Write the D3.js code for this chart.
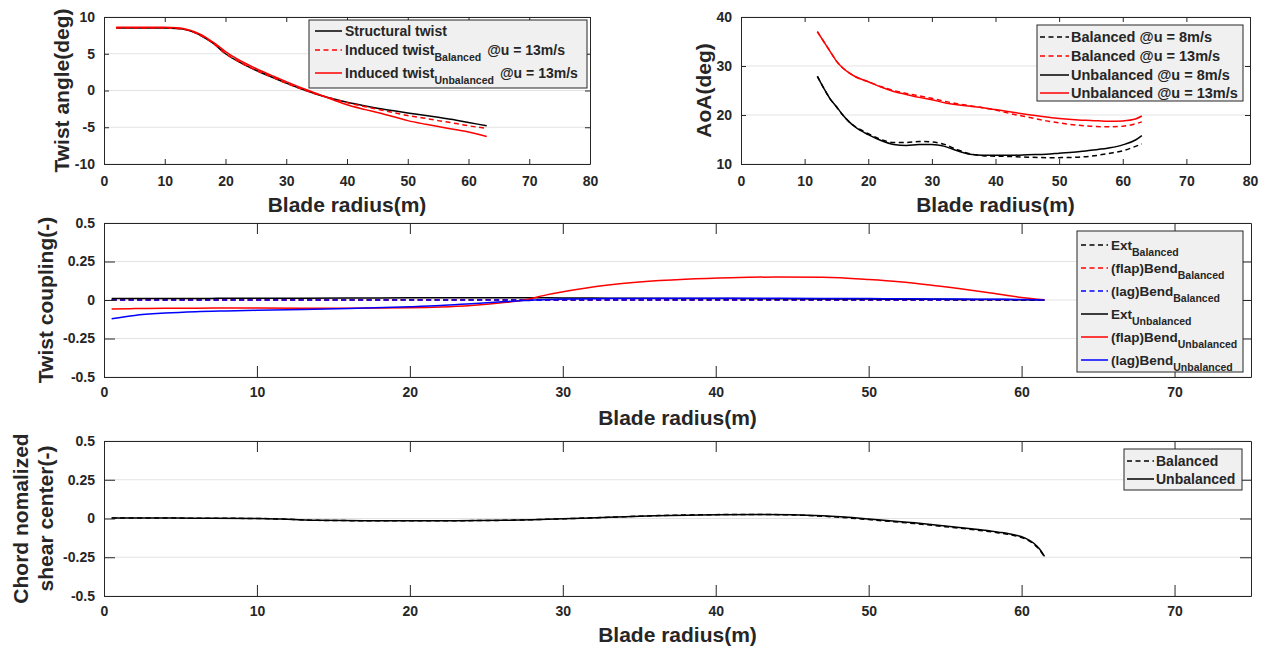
<!DOCTYPE html>
<html>
<head>
<meta charset="utf-8">
<script src="https://cdn.jsdelivr.net/npm/d3@7"></script>
<style>
  body { margin: 0; background: #fff; }
  text { font-family: "Liberation Sans", Arial, Helvetica, sans-serif; font-weight: bold; fill: #262626; }
</style>
</head>
<body>
<svg id="chart" width="1269" height="650"></svg>
<script>
// ---- top left: twist angle along the blade
const twistR = [2, 5, 8, 10, 12, 13, 14, 15, 16, 17, 18, 20, 22, 25, 28, 30, 33, 35, 38, 40, 43, 45, 48, 50, 53, 55, 58, 60, 63];
const structuralTwist = [8.5, 8.5, 8.5, 8.5, 8.45, 8.35, 8.15, 7.85, 7.45, 6.95, 6.4, 5.0, 4.0, 2.75, 1.7, 1.0, 0.05, -0.5, -1.2, -1.6, -2.1, -2.4, -2.8, -3.05, -3.4, -3.65, -4.05, -4.35, -4.8];
const inducedTwistBal = [8.5, 8.5, 8.5, 8.5, 8.45, 8.35, 8.15, 7.85, 7.45, 6.95, 6.4, 5.0, 4.0, 2.75, 1.7, 1.0, 0.05, -0.5, -1.2, -1.65, -2.2, -2.55, -3.05, -3.4, -3.8, -4.1, -4.5, -4.8, -5.15];
const inducedTwistUnbal = [8.6, 8.6, 8.6, 8.6, 8.55, 8.45, 8.25, 7.95, 7.6, 7.1, 6.55, 5.3, 4.25, 3.0, 1.9, 1.2, 0.2, -0.4, -1.35, -1.95, -2.6, -3.0, -3.65, -4.1, -4.6, -4.9, -5.35, -5.65, -6.25];

// ---- top right: angle of attack
const aoaR = [12, 13, 14, 15, 16, 17, 18, 20, 22, 24, 26, 28, 30, 32, 34, 36, 38, 40, 43, 45, 48, 50, 53, 55, 58, 60, 62, 63];
const aoaBal8 = [27.9, 25.5, 23.3, 21.7, 20.0, 18.6, 17.6, 16.2, 15.0, 14.4, 14.4, 14.6, 14.5, 14.0, 12.9, 12.1, 11.7, 11.6, 11.5, 11.4, 11.3, 11.3, 11.4, 11.6, 12.2, 12.7, 13.6, 14.1];
const aoaBal13 = [37.0, 35.0, 33.0, 31.0, 29.6, 28.6, 27.8, 26.8, 25.8, 25.0, 24.4, 23.9, 23.4, 22.8, 22.3, 21.9, 21.5, 21.0, 20.1, 19.6, 18.8, 18.4, 17.9, 17.7, 17.6, 17.7, 18.2, 18.6];
const aoaUnbal8 = [27.9, 25.5, 23.3, 21.7, 20.0, 18.6, 17.5, 16.0, 14.8, 14.0, 13.8, 14.0, 14.0, 13.6, 12.7, 12.0, 11.8, 11.8, 11.8, 11.9, 12.0, 12.2, 12.5, 12.8, 13.3, 13.9, 14.9, 15.8];
const aoaUnbal13 = [37.0, 35.0, 33.0, 31.0, 29.6, 28.6, 27.8, 26.8, 25.7, 24.8, 24.2, 23.6, 23.1, 22.5, 22.1, 21.8, 21.5, 21.1, 20.5, 20.1, 19.6, 19.3, 19.0, 18.9, 18.7, 18.8, 19.2, 19.8];

// ---- middle: twist coupling
const couplingR = [0.5, 2, 4, 6, 8, 10, 13, 16, 20, 22, 24, 26, 27.5, 29, 31, 33, 35, 38, 41, 44, 47, 50, 52, 54, 56, 58, 60, 61.5];
const extBal = [0.002, 0.002, 0.002, 0.002, 0.002, 0.002, 0.002, 0.002, 0.002, 0.002, 0.002, 0.002, 0.002, 0.002, 0.002, 0.002, 0.002, 0.002, 0.002, 0.002, 0.002, 0.002, 0.002, 0.002, 0.002, 0.001, 0.001, 0.0];
const flapBal = [0.0, 0.0, 0.0, 0.0, 0.0, 0.0, 0.0, 0.0, 0.0, 0.0, 0.0, 0.0, 0.0, 0.0, 0.0, 0.0, 0.0, 0.0, 0.0, 0.0, 0.0, 0.0, 0.0, 0.0, 0.0, 0.0, 0.0, 0.0];
const lagBal = [0.0, 0.0, 0.0, 0.0, 0.0, 0.0, 0.0, 0.0, 0.0, 0.0, 0.0, 0.0, 0.0, 0.0, 0.0, 0.0, 0.0, 0.0, 0.0, 0.0, 0.0, 0.0, 0.0, 0.0, 0.0, 0.0, 0.0, 0.0];
const extUnbal = [0.009, 0.009, 0.01, 0.01, 0.011, 0.011, 0.012, 0.013, 0.014, 0.015, 0.015, 0.015, 0.015, 0.014, 0.013, 0.012, 0.011, 0.01, 0.009, 0.008, 0.007, 0.006, 0.005, 0.005, 0.004, 0.003, 0.002, 0.0];
const flapUnbal = [-0.058, -0.056, -0.054, -0.053, -0.052, -0.052, -0.053, -0.053, -0.05, -0.045, -0.035, -0.018, 0.0, 0.035, 0.07, 0.098, 0.117, 0.135, 0.145, 0.149, 0.147, 0.133, 0.119, 0.098, 0.073, 0.046, 0.017, 0.002];
const lagUnbal = [-0.122, -0.1, -0.085, -0.076, -0.071, -0.067, -0.061, -0.055, -0.044, -0.036, -0.024, -0.012, -0.004, 0.003, 0.007, 0.009, 0.01, 0.011, 0.011, 0.011, 0.01, 0.009, 0.008, 0.007, 0.006, 0.005, 0.003, 0.0];

// ---- bottom: chord normalized shear center
const shearR = [0.5, 3, 6, 10, 12, 14, 17, 20, 23, 26, 28, 30, 33, 36, 40, 43, 45, 47, 50, 53, 55, 57, 58.5, 59.5, 60.2, 60.8, 61.2, 61.5];
const shearBal = [0.003, 0.003, 0.002, 0.0, -0.005, -0.012, -0.014, -0.014, -0.014, -0.012, -0.008, -0.002, 0.008, 0.018, 0.025, 0.026, 0.023, 0.015, -0.007, -0.033, -0.053, -0.074, -0.093, -0.11, -0.13, -0.165, -0.205, -0.248];
const shearUnbal = [0.003, 0.003, 0.002, 0.0, -0.005, -0.012, -0.014, -0.014, -0.014, -0.012, -0.008, -0.002, 0.008, 0.018, 0.025, 0.026, 0.024, 0.017, -0.003, -0.028, -0.048, -0.07, -0.088, -0.105, -0.125, -0.16, -0.2, -0.245];

// ---- ticks
const xTicksTop = [0, 10, 20, 30, 40, 50, 60, 70, 80];
const yTicksTwist = [-10, -5, 0, 5, 10];
const yTicksAoA = [10, 20, 30, 40];
const xTicksLow = [0, 10, 20, 30, 40, 50, 60, 70];
const yTicksLow = [-0.5, -0.25, 0, 0.25, 0.5];

const AXIS = "#262626";
const svg = d3.select("#chart");

function drawPanel(p) {
  const x = d3.scaleLinear().domain(p.xDomain).range([p.left, p.right]);
  const y = d3.scaleLinear().domain(p.yDomain).range([p.bottom, p.top]);
  const g = svg.append("g");

  // horizontal grid only
  g.append("g").selectAll("line").data(p.yTicks).join("line")
    .attr("x1", p.left).attr("x2", p.right)
    .attr("y1", d => y(d)).attr("y2", d => y(d))
    .attr("stroke", "#e3e3e3").attr("stroke-width", 1);

  const line = d3.line().x(d => x(d[0])).y(d => y(d[1])).curve(d3.curveMonotoneX);
  p.series.forEach(s => {
    g.append("path")
      .datum(d3.zip(s.x, s.y))
      .attr("d", line)
      .attr("fill", "none")
      .attr("stroke", s.color)
      .attr("stroke-width", 1.5)
      .attr("stroke-dasharray", s.dashed ? "5,3.5" : null);
  });

  const fmt = d => String(d);
  const style = sel => {
    sel.attr("font-family", null).attr("font-size", null);
    sel.select(".domain").attr("stroke", AXIS);
    sel.selectAll(".tick line").attr("stroke", AXIS);
    sel.selectAll("text").style("font-size", "14px");
  };
  g.append("g").attr("transform", `translate(0,${p.bottom})`)
    .call(d3.axisBottom(x).tickValues(p.xTicks).tickFormat(fmt).tickSizeInner(-p.tick).tickSizeOuter(0).tickPadding(p.xPad))
    .call(style);
  g.append("g").attr("transform", `translate(0,${p.top})`)
    .call(d3.axisTop(x).tickValues(p.xTicks).tickFormat("").tickSizeInner(-p.tick).tickSizeOuter(0))
    .call(style);
  g.append("g").attr("transform", `translate(${p.left},0)`)
    .call(d3.axisLeft(y).tickValues(p.yTicks).tickFormat(fmt).tickSizeInner(-p.tick).tickSizeOuter(0).tickPadding(9))
    .call(style);
  g.append("g").attr("transform", `translate(${p.right},0)`)
    .call(d3.axisRight(y).tickValues(p.yTicks).tickFormat("").tickSizeInner(-p.tick).tickSizeOuter(0))
    .call(style);

  // axis titles
  g.append("text")
    .attr("x", (p.left + p.right) / 2).attr("y", p.xLabelY)
    .attr("text-anchor", "middle").style("font-size", "21px")
    .text("Blade radius(m)");
  p.yLabel.forEach((t, i) => {
    g.append("text")
      .attr("transform", `translate(${p.yLabelX[i]},${(p.top + p.bottom) / 2}) rotate(-90)`)
      .attr("text-anchor", "middle").attr("dy", "0.35em").style("font-size", "21px")
      .text(t);
  });

  // legend
  const L = p.legend;
  g.append("rect")
    .attr("x", L.x0).attr("y", L.y0).attr("width", L.x1 - L.x0).attr("height", L.y1 - L.y0)
    .attr("fill", "#f0f0f0").attr("stroke", AXIS).attr("stroke-width", 1);
  p.series.forEach((s, i) => {
    const ry = L.rows[i];
    g.append("line")
      .attr("x1", L.lineX[0]).attr("x2", L.lineX[1]).attr("y1", ry).attr("y2", ry)
      .attr("stroke", s.color).attr("stroke-width", 1.5)
      .attr("stroke-dasharray", s.dashed ? "5,3.5" : null);
    const t = g.append("text").attr("x", L.textX).attr("y", ry).attr("dy", "0.36em").style("font-size", L.font + "px");
    t.append("tspan").text(s.name);
    if (s.sub) {
      t.append("tspan").attr("dy", 6).style("font-size", L.subFont + "px").text(s.sub);
      if (s.tail) t.append("tspan").attr("dy", -6).attr("dx", 6).text(s.tail);
    }
  });
}

// ---- top left panel
drawPanel({
  left: 104, right: 590, top: 17, bottom: 164,
  xDomain: [0, 80], yDomain: [-10, 10], xTicks: xTicksTop, yTicks: yTicksTwist,
  tick: 5, xPad: 12, xLabelY: 212, yLabel: ["Twist angle(deg)"], yLabelX: [62],
  series: [
    { name: "Structural twist", x: twistR, y: structuralTwist, color: "#000" },
    { name: "Induced twist", sub: "Balanced", tail: "@u = 13m/s", x: twistR, y: inducedTwistBal, color: "#ff0000", dashed: true },
    { name: "Induced twist", sub: "Unbalanced", tail: "@u = 13m/s", x: twistR, y: inducedTwistUnbal, color: "#ff0000" }
  ],
  legend: { x0: 309, x1: 587, y0: 20, y1: 88, rows: [31, 50, 73], lineX: [315, 342], textX: 345, font: 14, subFont: 10.5 }
});

// ---- top right panel
drawPanel({
  left: 741, right: 1250, top: 17, bottom: 164,
  xDomain: [0, 80], yDomain: [10, 40], xTicks: xTicksTop, yTicks: yTicksAoA,
  tick: 5, xPad: 12, xLabelY: 212, yLabel: ["AoA(deg)"], yLabelX: [704],
  series: [
    { name: "Balanced @u = 8m/s", x: aoaR, y: aoaBal8, color: "#000", dashed: true },
    { name: "Balanced @u = 13m/s", x: aoaR, y: aoaBal13, color: "#ff0000", dashed: true },
    { name: "Unbalanced @u = 8m/s", x: aoaR, y: aoaUnbal8, color: "#000" },
    { name: "Unbalanced @u = 13m/s", x: aoaR, y: aoaUnbal13, color: "#ff0000" }
  ],
  legend: { x0: 1037, x1: 1243, y0: 25, y1: 101, rows: [37, 56, 75, 93], lineX: [1040, 1069], textX: 1071, font: 14.5, subFont: 10.5 }
});

// ---- middle panel
drawPanel({
  left: 104, right: 1251, top: 223, bottom: 377,
  xDomain: [0, 75], yDomain: [-0.5, 0.5], xTicks: xTicksLow, yTicks: yTicksLow,
  tick: 11, xPad: 10, xLabelY: 425, yLabel: ["Twist coupling(-)"], yLabelX: [46],
  series: [
    { name: "Ext", sub: "Balanced", x: couplingR, y: extBal, color: "#000", dashed: true },
    { name: "(flap)Bend", sub: "Balanced", x: couplingR, y: flapBal, color: "#ff0000", dashed: true },
    { name: "(lag)Bend", sub: "Balanced", x: couplingR, y: lagBal, color: "#0000ff", dashed: true },
    { name: "Ext", sub: "Unbalanced", x: couplingR, y: extUnbal, color: "#000" },
    { name: "(flap)Bend", sub: "Unbalanced", x: couplingR, y: flapUnbal, color: "#ff0000" },
    { name: "(lag)Bend", sub: "Unbalanced", x: couplingR, y: lagUnbal, color: "#0000ff" }
  ],
  legend: { x0: 1077, x1: 1243, y0: 231, y1: 372, rows: [245, 268, 291, 314, 337, 360], lineX: [1081, 1108], textX: 1111, font: 13.5, subFont: 10.5 }
});

// ---- bottom panel
drawPanel({
  left: 104, right: 1251, top: 441, bottom: 596,
  xDomain: [0, 75], yDomain: [-0.5, 0.5], xTicks: xTicksLow, yTicks: yTicksLow,
  tick: 11, xPad: 10, xLabelY: 642, yLabel: ["Chord nomalized", "shear center(-)"], yLabelX: [21, 46],
  series: [
    { name: "Balanced", x: shearR, y: shearBal, color: "#000", dashed: true },
    { name: "Unbalanced", x: shearR, y: shearUnbal, color: "#000" }
  ],
  legend: { x0: 1124, x1: 1242, y0: 449, y1: 490, rows: [461, 479], lineX: [1127, 1154], textX: 1156, font: 14, subFont: 10.5 }
});
</script>
</body>
</html>
